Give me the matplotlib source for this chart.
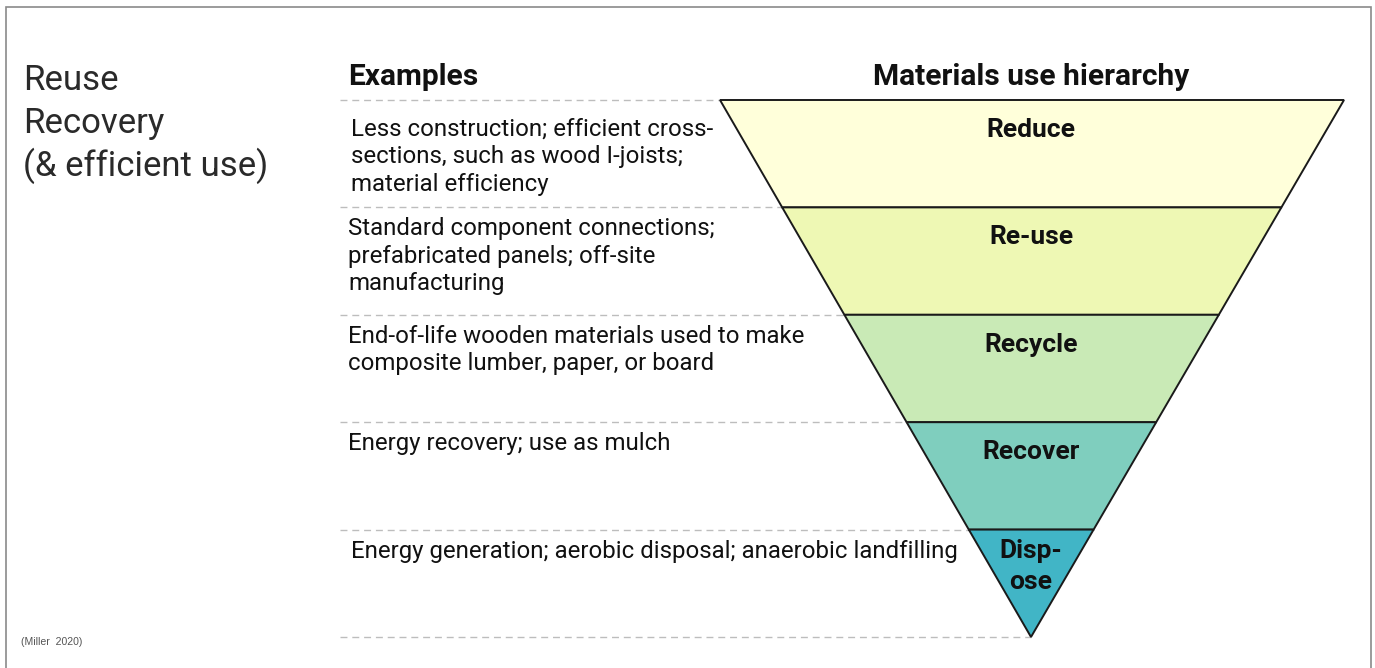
import matplotlib
matplotlib.use("Agg")
import matplotlib.pyplot as plt
from matplotlib.patches import Polygon

# Hierarchy levels, top (most preferred) to bottom
levels = ["Reduce", "Re-use", "Recycle", "Recover", "Disp-\nose"]
colors = ["#FFFFDA", "#EEF8B4", "#C9EAB6", "#7FCEBE", "#41B5C6"]
examples = [
    "Less construction; efficient cross-\nsections, such as wood I-joists;\nmaterial efficiency",
    "Standard component connections;\nprefabricated panels; off-site\nmanufacturing",
    "End-of-life wooden materials used to make\ncomposite lumber, paper, or board",
    "Energy recovery; use as mulch",
    "Energy generation; aerobic disposal; anaerobic landfilling",
]
side_lines = ["Reuse", "Recovery", "(& efficient use)"]
source = "(Miller  2020)"

# Layout in pixel units
W, H = 1375, 668
TRI_LEFT, TRI_RIGHT, TRI_TOP, APEX_Y = 720, 1344, 100, 637
APEX_X = 1031
DASH_X0 = 340
TEXT_X = 348
FONT = "Roboto"

fig = plt.figure(figsize=(W / 100, H / 100), dpi=100)
ax = fig.add_axes([0, 0, 1, 1])
ax.set_xlim(0, W)
ax.set_ylim(H, 0)
ax.axis("off")


def edge_x(y, x_top):
    t = (y - TRI_TOP) / (APEX_Y - TRI_TOP)
    return x_top + t * (APEX_X - x_top)


def lines_at(x, y, txt, pitch, **kw):
    # place each line on its own baseline so the first line sits at y
    for k, line in enumerate(txt.split("\n")):
        ax.text(x, y + k * pitch, line, va="baseline", **kw)


n = len(levels)
band = (APEX_Y - TRI_TOP) / n
bounds = [TRI_TOP + i * band for i in range(n + 1)]

# bands of the inverted triangle
for i, (lab, col) in enumerate(zip(levels, colors)):
    y0, y1 = bounds[i], bounds[i + 1]
    pts = [(edge_x(y0, TRI_LEFT), y0), (edge_x(y0, TRI_RIGHT), y0),
           (edge_x(y1, TRI_RIGHT), y1), (edge_x(y1, TRI_LEFT), y1)]
    ax.add_patch(Polygon(pts, closed=True, facecolor=col, edgecolor="#1a1a1a",
                         linewidth=1.4, joinstyle="miter", zorder=2))
    off = 28 if "\n" in lab else 37
    lines_at(APEX_X, y0 + off, lab, 31, ha="center", fontsize=19,
             fontweight="bold", family=FONT, color="#111111", zorder=3)

# dashed guide lines and example texts
for y in bounds:
    ax.plot([DASH_X0, edge_x(y, TRI_LEFT)], [y, y], color="#BDBDBD",
            linewidth=1, dashes=(5, 3.5), zorder=1)
for i, txt in enumerate(examples):
    x = TEXT_X + (3 if i in (0, 4) else 0)
    off = 36 if i == 0 else 28
    lines_at(x, bounds[i] + off, txt, 27.5, ha="left", fontsize=17.3,
             family=FONT, color="#111111")

# headers
ax.text(348, 85, "Examples", ha="left", va="baseline", fontsize=21.5,
        fontweight="bold", family=FONT, color="#111111")
ax.text(APEX_X, 85, "Materials use hierarchy", ha="center", va="baseline",
        fontsize=21.5, fontweight="bold", family=FONT, color="#111111")

# side label
lines_at(23, 90, "\n".join(side_lines), 43, ha="left", fontsize=25,
         fontweight="normal", family=FONT, color="#2a2a2a")

ax.text(21, 642, source, ha="left", va="center", fontsize=7.6,
        family=["Liberation Sans", "DejaVu Sans"], color="#555555")

# frame (left, top, right)
ax.plot([6, 6, 1371, 1371], [H, 7, 7, H], color="#8a8a8a", linewidth=1.2,
        solid_joinstyle="miter", clip_on=False)

fig.savefig("out.png", dpi=100, facecolor="white")
